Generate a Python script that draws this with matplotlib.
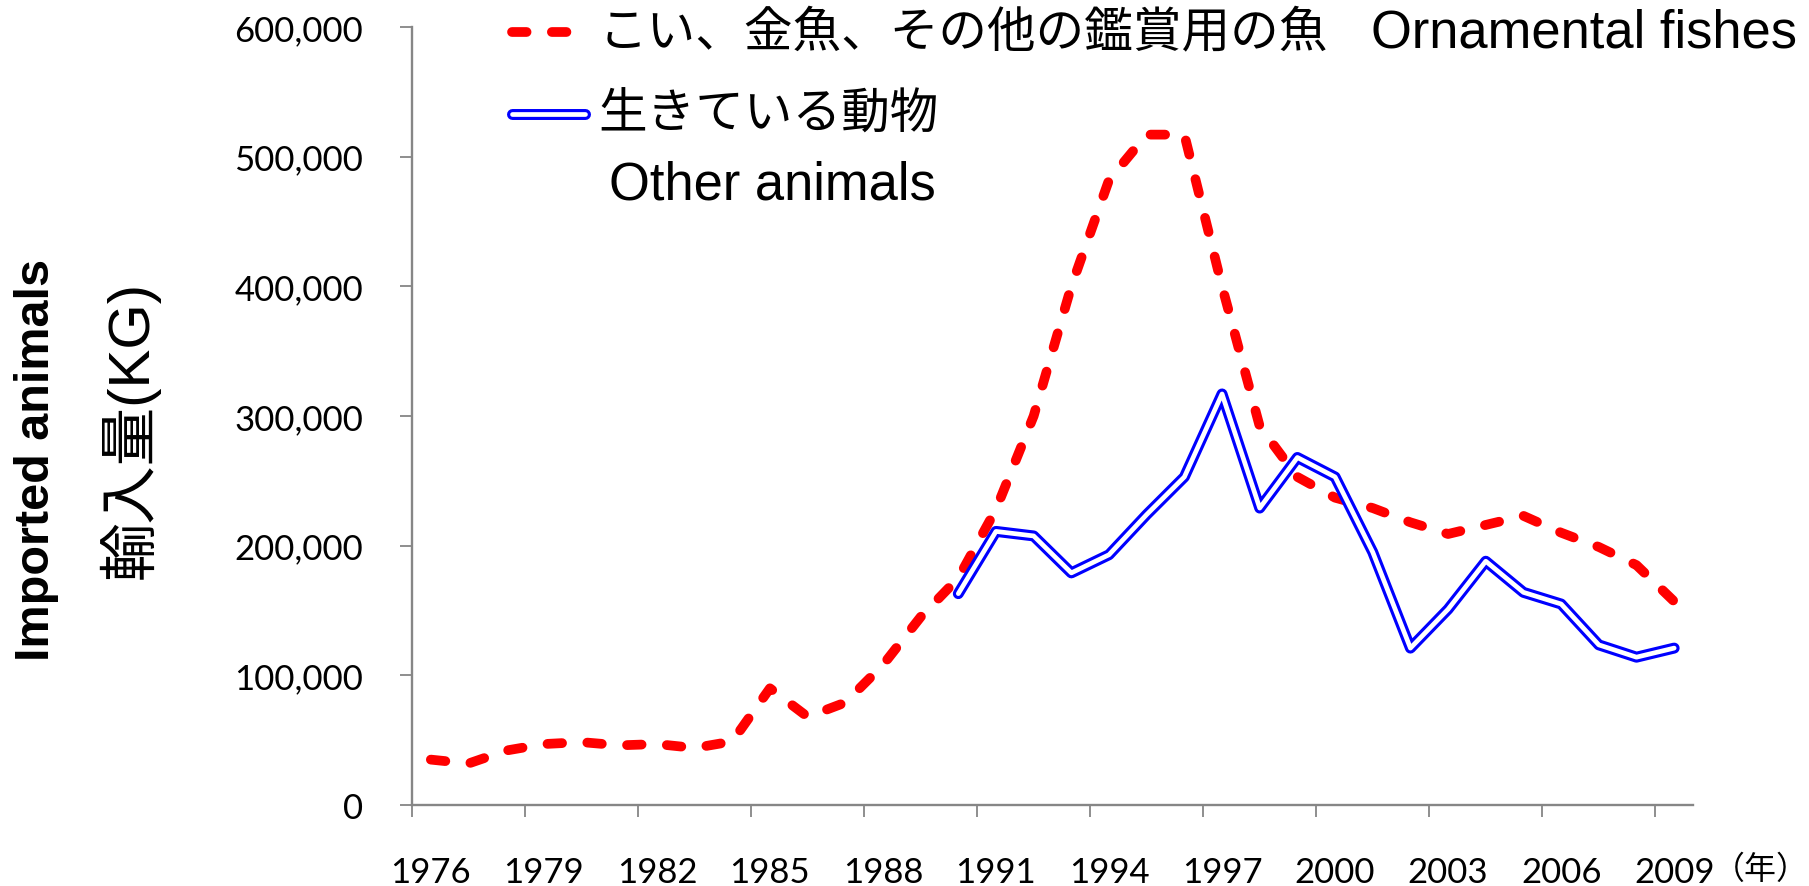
import numpy as np
import matplotlib
matplotlib.use('Agg')
import matplotlib.pyplot as plt
import matplotlib.patheffects as pe
from matplotlib.lines import Line2D
from matplotlib.ticker import FuncFormatter

# data (kg)
years = list(range(1976, 2010))
ornamental = [35000, 32000, 42000, 47000, 48500, 46000, 47000, 44000, 49000, 90000,
              68000, 79000, 108000, 145000, 175000, 228000, 300000, 400000, 482000, 517000,
              517000, 400000, 292000, 253000, 237000, 229000, 218000, 209000, 216000, 223000,
              210000, 199000, 185000, 157000]
other_years = list(range(1990, 2010))
other = [163000, 211000, 207500, 179000, 193000, 224000, 253000, 317000, 229000, 268000,
         253000, 195000, 121000, 151000, 188000, 164000, 155000, 123500, 114000, 121000]

year_labels = [str(y) for y in years[::3]]
yticks = [0, 100000, 200000, 300000, 400000, 500000, 600000]

lbl_orn_jp = 'こい、金魚、その他の鑑賞用の魚'
lbl_orn_en = 'Ornamental fishes'
lbl_oth_jp = '生きている動物'
lbl_oth_en = 'Other animals'

W, H = 1809, 887
fig = plt.figure(figsize=(W / 100, H / 100), dpi=100)
fig.patch.set_facecolor('white')

def fx(px):
    return px / W

def fy(py):
    return 1 - py / H

ax = fig.add_axes([fx(412), fy(806), fx(1693) - fx(412), fy(28) - fy(806)])

xi = np.arange(len(years))
xo = np.array([years.index(y) for y in other_years])

red_kw = dict(color='#FF0000', lw=7, dashes=(1.5, 2.6), dash_capstyle='round',
              dash_joinstyle='round')
blue_fx = [pe.Stroke(linewidth=7.9, foreground='#0000FF'), pe.Normal()]
blue_kw = dict(color='white', lw=3.4, solid_capstyle='round', solid_joinstyle='round',
               path_effects=blue_fx)

ax.plot(xi, ornamental, **red_kw)
ax.plot(xo, other, **blue_kw)

ax.set_xlim(-0.5, len(years) - 0.5)
ax.set_ylim(0, 600000)

# axis styling (Excel-like)
grey = '#868686'
for s in ['top', 'right']:
    ax.spines[s].set_visible(False)
for s in ['left', 'bottom']:
    ax.spines[s].set_color(grey)
    ax.spines[s].set_linewidth(1.7)

ax.set_xticks(np.arange(-0.5, len(years) - 0.5, 3))
ax.set_xticks(xi[::3], minor=True)
ax.set_xticklabels([])
ax.set_xticklabels(year_labels, minor=True)
ax.tick_params(axis='x', which='major', direction='out', length=8.6, width=1.3, color=grey)
ax.tick_params(axis='x', which='minor', length=0, pad=37)

ax.set_yticks(yticks)
ax.yaxis.set_major_formatter(FuncFormatter(lambda v, p: f'{int(v):,}'))
ax.tick_params(axis='y', direction='out', length=8.6, width=1.3, color=grey, pad=26.6)

for t in ax.get_xticklabels(minor=True):
    t.set_fontfamily('Lato')
    t.set_fontsize(25)
for t in ax.get_yticklabels():
    t.set_fontfamily('Lato')
    t.set_fontsize(25)

fig.text(fx(1713), fy(870), '（年）', family=['Noto Sans CJK JP'], fontsize=23,
         ha='left', va='center')

# y axis title, two lines
fig.text(fx(37), fy(460), 'Imported animals', family='Liberation Sans', weight='bold',
         fontsize=35, rotation=90, ha='center', va='center')
fig.text(fx(129), fy(430), '輸入量(KG)', family=['Liberation Sans', 'Noto Sans CJK JP'],
         fontsize=42, rotation=90, ha='center', va='center')

# legend, drawn by hand
jfam = ['Noto Sans CJK JP']
efam = ['Liberation Sans']
fig.add_artist(Line2D([fx(512), fx(585)], [fy(33), fy(33)], transform=fig.transFigure,
                      **red_kw))
fig.add_artist(Line2D([fx(512), fx(585)], [fy(115), fy(115)], transform=fig.transFigure,
                      **blue_kw))
fig.text(fx(599), fy(33), lbl_orn_jp, family=jfam, fontsize=35, ha='left', va='center')
fig.text(fx(1371), fy(33), lbl_orn_en, family=efam, fontsize=37.8, ha='left', va='center')
fig.text(fx(598), fy(115), lbl_oth_jp, family=jfam, fontsize=35, ha='left', va='center')
fig.text(fx(609), fy(185), lbl_oth_en, family=efam, fontsize=37.8, ha='left', va='center')

fig.savefig('out.png', dpi=100, facecolor='white')
